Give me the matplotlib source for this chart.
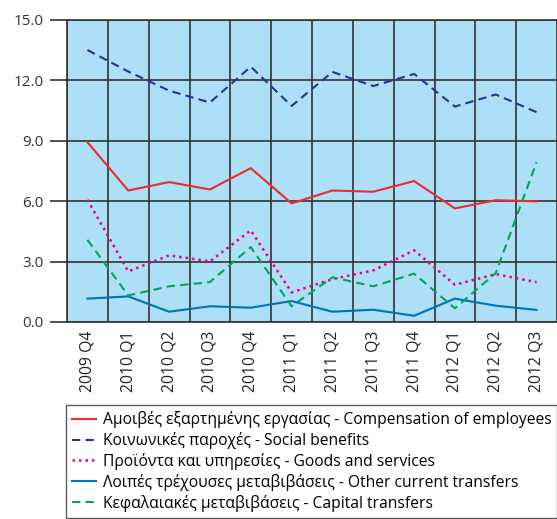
import numpy as np
import matplotlib
matplotlib.use("Agg")
import matplotlib.pyplot as plt

plt.rcParams["font.family"] = ["Open Sans", "DejaVu Sans"]

quarters = ["2009 Q4", "2010 Q1", "2010 Q2", "2010 Q3", "2010 Q4", "2011 Q1",
            "2011 Q2", "2011 Q3", "2011 Q4", "2012 Q1", "2012 Q2", "2012 Q3"]

compensation = [8.93, 6.53, 6.95, 6.58, 7.64, 5.89, 6.53, 6.47, 7.00, 5.64, 6.05, 5.99]
social = [13.51, 12.44, 11.49, 10.90, 12.68, 10.73, 12.42, 11.72, 12.32, 10.70, 11.30, 10.42]
goods = [6.07, 2.51, 3.31, 3.01, 4.55, 1.47, 2.13, 2.56, 3.56, 1.85, 2.38, 1.98]
other_transfers = [1.16, 1.27, 0.51, 0.78, 0.71, 1.04, 0.51, 0.61, 0.31, 1.16, 0.81, 0.60]
capital = [4.08, 1.32, 1.77, 1.98, 3.72, 0.78, 2.22, 1.77, 2.40, 0.68, 2.43, 7.94]

labels = ["Αμοιβές εξαρτημένης εργασίας - Compensation of employees",
          "Κοινωνικές παροχές - Social benefits",
          "Προϊόντα και υπηρεσίες - Goods and services",
          "Λοιπές τρέχουσες μεταβιβάσεις - Other current transfers",
          "Κεφαλαιακές μεταβιβάσεις - Capital transfers"]

fig = plt.figure(figsize=(5.57, 5.19), dpi=100)
ax = fig.add_axes([0.1203, 0.3796, 0.8797, 0.5819])
ax.set_facecolor("#ADDFF7")

x = np.arange(len(quarters))
ax.plot(x, compensation, color="#EE2B2B", lw=1.5, ls="-", label=labels[0])
ax.plot(x, social, color="#2E3192", lw=1.5, ls=(0, (4, 2.5)), label=labels[1])
ax.plot(x, goods, color="#EC008C", lw=1.8, ls=(0, (1, 1.6)), label=labels[2])
ax.plot(x, other_transfers, color="#0072BC", lw=1.5, ls="-", label=labels[3])
ax.plot(x, capital, color="#00A651", lw=1.5, ls=(0, (4, 2.5)), label=labels[4])

ax.set_xlim(-0.5, len(quarters) - 0.5)
ax.set_ylim(0, 15)
yt = np.arange(0, 15.1, 3)
ax.set_yticks(yt)
ax.set_yticklabels([f"{v:.1f}" for v in yt], fontsize=11, color="#333333")
ax.set_xticks(x)
ax.set_xticklabels(quarters, rotation=90, fontsize=11.3, color="#222222")
ax.set_xticks(np.arange(-0.5, len(quarters)), minor=True)
ax.tick_params(axis="x", which="major", length=0, pad=6.5)
ax.tick_params(axis="x", which="minor", length=0)
ax.tick_params(axis="y", length=12, width=1.2, color="#333333", pad=5)

ax.grid(True, which="minor", axis="x", color="#333333", lw=1.2)
ax.grid(True, which="major", axis="y", color="#333333", lw=1.2)
ax.set_axisbelow(True)
for s in ax.spines.values():
    s.set_color("#333333")
    s.set_linewidth(1.2)
ax.spines["right"].set_visible(False)

# legend box: x 66..557 px, y 405..518 px; first label about 450 px wide
box = (66 / 557, 1 / 519, 491 / 557, 113 / 519)
fs, lsp = 10.8, 0.4
fig.canvas.draw()
r = fig.canvas.get_renderer()
for _ in range(4):
    leg = fig.legend(loc="lower left", bbox_to_anchor=box, mode="expand",
                     borderaxespad=0, fontsize=fs, frameon=True,
                     fancybox=False, edgecolor="#333333", handlelength=1.5,
                     handletextpad=0.45, labelspacing=lsp, borderpad=0.4)
    w = leg.get_texts()[0].get_window_extent(r).width
    h = leg.get_window_extent(r).height
    fs_px = fs * 100 / 72
    new_fs = fs * 450 / w
    lsp = lsp + (113 - h) / (4 * fs_px)
    fs = new_fs
    leg.remove()
leg = fig.legend(loc="lower left", bbox_to_anchor=box, mode="expand",
                 borderaxespad=0, fontsize=fs, frameon=True,
                 fancybox=False, edgecolor="#333333", handlelength=1.5,
                 handletextpad=0.45, labelspacing=lsp, borderpad=0.4)

fig.savefig("out.png", dpi=100)
